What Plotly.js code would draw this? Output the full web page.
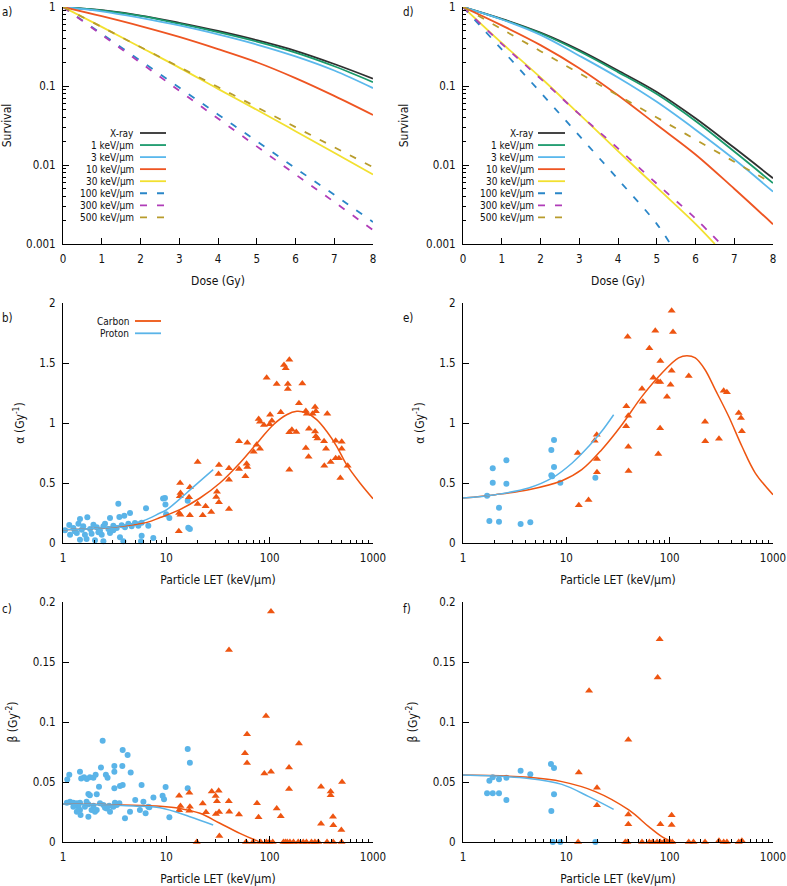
<!DOCTYPE html>
<html><head><meta charset="utf-8">
<script src="https://cdn.plot.ly/plotly-3.0.1.min.js"></script>
<style>html,body{margin:0;padding:0;background:#fff}#chart{width:787px;height:886px}</style>
</head><body><div id="chart"></div>
<script>
// ---------- shared ----------
const seriesNames = ['X-ray','1 keV/μm','3 keV/μm','10 keV/μm','30 keV/μm','100 keV/μm','300 keV/μm','500 keV/μm'];
const seriesColors = ['#303030','#1a9a6c','#5ab8ec','#ee5522','#f2e030','#2a86c8','#b03cb8','#b89c2c'];
const seriesDash = ['solid','solid','solid','solid','solid','7px,10px','7px,10px','7px,10px'];
const dose = [0,1,2,3,4,5,6,7,8];

// ---------- panel a : survival (left) ----------
const survA_xray = [1,0.91,0.78,0.63,0.497,0.38,0.279,0.19,0.124];
const survA_1    = [1,0.905,0.77,0.615,0.48,0.365,0.265,0.178,0.112];
const survA_3    = [1,0.883,0.729,0.584,0.45,0.335,0.237,0.157,0.094];
const survA_10   = [1,0.765,0.573,0.418,0.293,0.2,0.126,0.075,0.043];
const survA_30   = [1,0.56,0.31,0.171,0.092,0.05,0.0268,0.0143,0.0076];
const survA_100  = [1,0.457,0.209,0.0955,0.0437,0.02,0.0091,0.0042,0.0019];
const survA_300  = [1,0.444,0.197,0.0872,0.0387,0.0172,0.0076,0.0034,0.0015];
const survA_500  = [1,0.558,0.311,0.174,0.097,0.054,0.0302,0.0168,0.0094];

// ---------- panel d : survival (right) ----------
const survD_xray = [1,0.708,0.473,0.285,0.157,0.084,0.039,0.0165,0.0068];
const survD_1    = [1,0.70,0.465,0.275,0.15,0.079,0.036,0.0148,0.0059];
const survD_3    = [1,0.695,0.443,0.242,0.128,0.063,0.028,0.0118,0.0046];
const survD_10   = [1,0.585,0.329,0.168,0.0764,0.0323,0.0136,0.005,0.00178];
const doseD_30   = [0,1,2,3,4,5,6,6.5];
const survD_30   = [1,0.35,0.128,0.044,0.015,0.0052,0.0018,0.001];
const doseD_100  = [0,1,2,3,4,5,5.35];
const survD_100  = [1,0.29,0.083,0.0235,0.0066,0.0018,0.001];
const doseD_300  = [0,1,2,3,4,5,6,6.65];
const survD_300  = [1,0.342,0.124,0.044,0.0162,0.0058,0.0021,0.001];
const survD_500  = [1,0.525,0.276,0.145,0.076,0.04,0.021,0.011,0.0058];

// ---------- panel b : alpha (left) ----------
const bProtonLET = [1.46,1.72,2.85,3.51,3.92,4.45,1.15,1.41,1.97,2.55,3.07,3.70,4.29,4.97,5.77,1.045,1.26,1.52,1.83,2.12,2.28,2.75,3.31,3.98,4.62,5.36,6.69,1.17,1.36,1.63,1.89,2.37,2.85,3.56,5.77,7.48,1.46,1.69,2.04,2.46,3.84,5.69,2.2,1.3,1.57,2.46,3.07,3.43,6.36,9.3,9.7,9.8,9.95,10.7,16.1,16.3,16.9];
const bProtonAlpha = [0.20,0.214,0.208,0.217,0.228,0.25,0.15,0.161,0.153,0.161,0.144,0.147,0.161,0.167,0.169,0.106,0.125,0.111,0.117,0.131,0.103,0.117,0.125,0.131,0.139,0.144,0.144,0.069,0.083,0.069,0.078,0.069,0.083,0.047,0.061,0.042,0.028,0.033,0.022,0.014,0.014,0.014,0.089,0.097,0.139,0.139,0.106,0.328,0.289,0.37,0.375,0.32,0.24,0.208,0.353,0.127,0.117];
const bCarbonLET = [155,137.6,143,93.5,117,150,150,207,192,128,101,78.3,80.6,88,105,100,224,229,275,280,260,361,155,164,181,240,275,280,290,336,435,498,224,238,351,498,435,468,389,338,569,483,155,50.5,60.8,74.8,80.6,70,59.8,60.8,50.5,58.2,40.4,40.4,32.3,32,20.1,30.9,30.4,32.3,27.2,24,22.5,20.1,16.9,16.6,16.9,13.6,13.7,13.5,13.3,13.7,13.2,40.4];
const bCarbonAlpha = [1.528,1.483,1.456,1.378,1.325,1.325,1.283,1.33,1.164,1.089,1.069,1.033,1.011,0.983,1.019,0.99,1.1,1.078,1.133,1.097,1.078,1.078,0.922,0.944,0.925,0.953,0.93,0.89,0.87,0.847,0.853,0.844,0.792,0.719,0.786,0.786,0.706,0.706,0.675,0.644,0.644,0.542,0.611,0.847,0.836,0.819,0.786,0.761,0.661,0.633,0.617,0.556,0.622,0.528,0.65,0.575,0.675,0.428,0.383,0.339,0.258,0.306,0.231,0.325,0.464,0.381,0.231,0.5,0.417,0.389,0.25,0.236,0.097,0.283];
const bCarbonFitLET   = [1,2,4,6.5,8.7,13.5,21.2,33,51.5,80.6,108.5,146,183,228,285,356,445,555,748,1000];
const bCarbonFitAlpha = [0.11,0.12,0.143,0.172,0.212,0.278,0.375,0.5,0.667,0.861,0.986,1.069,1.097,1.083,1.028,0.931,0.806,0.653,0.5,0.369];
const bProtonFitLET   = [1,2,4,6,8.7,10,15.7,20,28.4];
const bProtonFitAlpha = [0.11,0.12,0.15,0.185,0.25,0.275,0.417,0.497,0.611];

// ---------- panel e : alpha (right) ----------
const eProtonLET   = [1.71,1.94,1.94,1.8,2.23,2.23,2.63,2.63,3.61,4.48,7.16,7.6,7.6,7.16,7.3,8.75,19.1];
const eProtonAlpha = [0.394,0.622,0.503,0.183,0.294,0.178,0.689,0.494,0.158,0.172,0.775,0.858,0.633,0.564,0.556,0.503,0.544];
const eCarbonLET   = [104.5,72.6,107.7,39.2,63.6,81.3,104.5,153,69.5,77,81,102,54,55,94.2,38.1,39.8,37.9,80.8,39.8,77.6,40,19.7,18.8,19.8,19.8,12.9,13.2,16.4,220,221,300,333,358,466,490,500];
const eCarbonAlpha = [1.936,1.769,1.758,1.719,1.622,1.517,1.436,1.392,1.378,1.344,1.342,1.319,1.286,1.178,1.219,1.139,1.061,0.972,0.956,0.803,0.742,0.6,0.903,0.853,0.7,0.589,0.75,0.314,0.358,1.011,0.847,0.869,1.269,1.256,1.083,1.042,0.931];
const eCarbonFitLET   = [1,2.06,4.32,9.06,14.1,22,34.5,54,84.3,122,147,177,220,276,372,500,674,1000];
const eCarbonFitAlpha = [0.375,0.403,0.444,0.519,0.611,0.778,0.986,1.222,1.417,1.542,1.561,1.542,1.444,1.278,1.056,0.806,0.583,0.403];
const eProtonFitLET   = [1,2.06,4.32,7.3,11.4,16.5,22,28.7];
const eProtonFitAlpha = [0.375,0.403,0.458,0.542,0.667,0.806,0.931,1.069];

// ---------- panel c : beta (left) ----------
const cProtonLET = [2.42,3.78,4.22,16.1,16.9,1.1,1.15,1.46,1.5,1.6,1.7,1.82,1.97,2.07,2.33,2.6,2.7,3.14,3.14,3.75,4.52,3.56,3.78,3.14,2.23,5.76,1.76,1.82,2.12,9.2,9.84,9.5,10.7,7.5,5.0,5.55,6.3,6.85,16.1,1.17,1.26,1.36,1.46,1.41,1.46,1.48,1.36,1.69,1.76,1.97,1.89,2.04,1.76,2.28,2.46,2.65,2.85,3.07,3.31,3.51,3.98,4.45,6.0,6.69,2.55,2.8,3.18,2.12,1.63,1.26,1.09];
const cProtonBeta = [0.0844,0.0767,0.0725,0.0775,0.066,0.052,0.056,0.0586,0.053,0.054,0.0525,0.054,0.0536,0.056,0.062,0.056,0.0536,0.0633,0.0586,0.0633,0.058,0.0467,0.0475,0.0447,0.046,0.0475,0.04,0.039,0.0397,0.0386,0.0458,0.0356,0.0206,0.037,0.035,0.0267,0.024,0.029,0.0447,0.0336,0.0328,0.0322,0.0328,0.0294,0.0267,0.0225,0.0253,0.0336,0.0314,0.0303,0.0267,0.0253,0.0211,0.0322,0.0308,0.028,0.0253,0.0294,0.0308,0.0322,0.0197,0.0253,0.0336,0.0294,0.0286,0.0303,0.0328,0.0267,0.0294,0.0294,0.0328];
const cCarbonLET = [103,40.4,92.2,60.4,192,57.7,60.4,88.8,103,154,154,314,389,389,502,13.3,16.7,27.5,32.1,30,30.9,40.2,22.5,13.7,16.9,16.7,13.3,24.2,30.2,32.4,40.6,50.5,75.4,78,117,128,314,410,413,494,32.6,19.7,59,69,82,93,99,107,136,142,148,157,170,189,211,227,254,274,295,359,412,496];
const cCarbonBeta = [0.192,0.16,0.105,0.0897,0.082,0.0739,0.0658,0.057,0.0586,0.062,0.0442,0.0461,0.042,0.039,0.05,0.0386,0.041,0.042,0.0428,0.0383,0.034,0.034,0.032,0.03,0.0294,0.026,0.0264,0.0247,0.0233,0.025,0.0253,0.023,0.0322,0.0206,0.028,0.0214,0.0153,0.0211,0.0139,0.01,0.005,0,0,0,0,0,0,0,0,0,0,0,0,0,0,0,0,0,0,0,0,0];
const cCarbonFitLET  = [1,2.28,4.8,8.7,13.5,21.2,33,51.5,75,80];
const cCarbonFitBeta = [0.0317,0.0313,0.0306,0.0298,0.028,0.0239,0.0156,0.0072,0.0011,0];
const cProtonFitLET  = [1,2.28,4.8,8.7,16.9,28.4];
const cProtonFitBeta = [0.0317,0.0311,0.03,0.0285,0.0211,0.0142];

// ---------- panel f : beta (right) ----------
const fProtonLET  = [1.71,1.94,2.23,1.8,1.94,2.23,2.63,2.63,3.61,4.48,7.1,7.6,7.6,7.16,7.4,8.75,19.1];
const fProtonBeta = [0.0406,0.0406,0.0406,0.0511,0.0539,0.0522,0.0536,0.035,0.0594,0.0564,0.065,0.0617,0.0397,0.0258,0,0,0];
const fCarbonLET  = [80,76.5,16.6,39.8,13.2,19.8,19.8,39.8,39.8,81.3,104.5,104.5,13,37.2,39,54,63.6,68.5,75.5,81.3,87.7,94.2,101,106,153,170,220,300,333,358,466,500];
const fCarbonBeta = [0.169,0.137,0.126,0.0853,0.058,0.0453,0.0306,0.023,0.0147,0.0147,0.0222,0.0142,0,0,0,0,0,0,0,0,0,0,0,0,0,0,0,0.001,0,0,0,0.001];
const fCarbonFitLET  = [1,4.32,9.06,19.1,40.2,62.7,84,100,113];
const fCarbonFitBeta = [0.0558,0.0539,0.0503,0.042,0.0267,0.0128,0.0044,0.001,0];
const fProtonFitLET  = [1,4.32,9.06,16.5,28.7];
const fProtonFitBeta = [0.0558,0.053,0.048,0.0378,0.0272];

const carbonColor = '#ee5511';
const protonColor = '#5ab4e8';
const ionNames = ['Carbon','Proton'];

// ---------- build ----------
const W = 787, H = 886;
const FONT = 'DejaVu Sans Condensed, DejaVu Sans, sans-serif';
const traces = [];

function addSurv(xa, ya, dosesList, valuesList) {
  valuesList.forEach((v, i) => {
    traces.push({x: dosesList[i], y: v, xaxis: xa, yaxis: ya, mode: 'lines', showlegend: false,
      hoverinfo: 'skip', line: {color: seriesColors[i], width: 1.8, dash: seriesDash[i], shape: 'spline'}});
  });
}
addSurv('x', 'y', [dose,dose,dose,dose,dose,dose,dose,dose],
  [survA_xray, survA_1, survA_3, survA_10, survA_30, survA_100, survA_300, survA_500]);
addSurv('x2', 'y2', [dose,dose,dose,dose,doseD_30,doseD_100,doseD_300,dose],
  [survD_xray, survD_1, survD_3, survD_10, survD_30, survD_100, survD_300, survD_500]);

function addPanel(xa, ya, pL, pV, cL, cV, cfL, cfV, pfL, pfV) {
  traces.push({x: pL, y: pV, xaxis: xa, yaxis: ya, mode: 'markers', showlegend: false, cliponaxis: false,
    marker: {symbol: 'circle', size: 6, color: protonColor}});
  traces.push({x: cL, y: cV, xaxis: xa, yaxis: ya, mode: 'markers', showlegend: false, cliponaxis: false,
    marker: {symbol: 'triangle-up', size: 7, color: carbonColor}});
  traces.push({x: cfL, y: cfV, xaxis: xa, yaxis: ya, mode: 'lines', showlegend: false,
    line: {color: carbonColor, width: 1.5, shape: 'spline'}});
  traces.push({x: pfL, y: pfV, xaxis: xa, yaxis: ya, mode: 'lines', showlegend: false,
    line: {color: protonColor, width: 1.5, shape: 'spline'}});
}
addPanel('x3','y3', bProtonLET, bProtonAlpha, bCarbonLET, bCarbonAlpha, bCarbonFitLET, bCarbonFitAlpha, bProtonFitLET, bProtonFitAlpha);
addPanel('x4','y4', eProtonLET, eProtonAlpha, eCarbonLET, eCarbonAlpha, eCarbonFitLET, eCarbonFitAlpha, eProtonFitLET, eProtonFitAlpha);
addPanel('x5','y5', cProtonLET, cProtonBeta, cCarbonLET, cCarbonBeta, cCarbonFitLET, cCarbonFitBeta, cProtonFitLET, cProtonFitBeta);
addPanel('x6','y6', fProtonLET, fProtonBeta, fCarbonLET, fCarbonBeta, fCarbonFitLET, fCarbonFitBeta, fProtonFitLET, fProtonFitBeta);

const colL = [63/W, 373/W], colR = [463/W, 773/W];
const rowT = [1-244/H, 1-7/H], rowM = [1-543/H, 1-303/H], rowB = [1-842/H, 1-602/H];

const logMinorX = [2,3,4,5,6,7,8,9,20,30,40,50,60,70,80,90,200,300,400,500,600,700,800,900];
const logMinorY = [0.002,0.003,0.004,0.005,0.006,0.007,0.008,0.009,0.02,0.03,0.04,0.05,0.06,0.07,0.08,0.09,0.2,0.3,0.4,0.5,0.6,0.7,0.8,0.9];

const base = {showline: true, linecolor: '#000', linewidth: 1, ticks: 'inside', ticklen: 6, tickwidth: 1,
  tickcolor: '#000', showgrid: false, zeroline: false, mirror: false, tickfont: {size: 11.5, color: '#111'},
  ticklabeloverflow: 'allow', fixedrange: true};
function doseAxis(dom, anchor) {
  return Object.assign({}, base, {domain: dom, anchor: anchor, range: [0, 8], dtick: 1, tick0: 0,
    ticklabelstandoff: 4, title: {text: 'Dose (Gy)', font: {size: 12}, standoff: 11}});
}
function survAxis(dom, anchor) {
  return Object.assign({}, base, {domain: dom, anchor: anchor, type: 'log', range: [-3, 0],
    tickmode: 'array', tickvals: [0.001,0.01,0.1,1], ticktext: ['0.001','0.01','0.1','1'], ticklabelstandoff: 4,
    minor: {tickmode: 'array', tickvals: logMinorY, ticks: 'inside', ticklen: 3, tickcolor: '#000'},
    title: {text: 'Survival', font: {size: 12}, standoff: 14}});
}
function letAxis(dom, anchor) {
  return Object.assign({}, base, {domain: dom, anchor: anchor, type: 'log', range: [0, 3],
    tickmode: 'array', tickvals: [1,10,100,1000], ticktext: ['1','10','100','1000'], ticklabelstandoff: 4,
    minor: {tickmode: 'array', tickvals: logMinorX, ticks: 'inside', ticklen: 3, tickcolor: '#000'},
    title: {text: 'Particle LET (keV/μm)', font: {size: 12}, standoff: 11}});
}
function linAxis(dom, anchor, rng, dt, ttl, so) {
  return Object.assign({}, base, {domain: dom, anchor: anchor, range: rng, dtick: dt, tick0: 0,
    ticklabelstandoff: 4, title: {text: ttl, font: {size: 12}, standoff: so}});
}

const annotations = [];
const shapes = [];
function label(t, px, py) {
  annotations.push({xref: 'paper', yref: 'paper', x: px/W, y: 1-py/H, xanchor: 'left', yanchor: 'middle',
    text: t, showarrow: false, font: {size: 11.5}});
}
label('a)', 0, 12); label('d)', 401, 12);
label('b)', 0, 318); label('e)', 401, 318);
label('c)', 0, 609); label('f)', 401, 609);

function legend(names, colors, dashes, textRight, lx0, lx1, y0, step) {
  names.forEach((n, i) => {
    const py = y0 + i*step;
    annotations.push({xref: 'paper', yref: 'paper', x: textRight/W, y: 1-py/H, xanchor: 'right', yanchor: 'middle',
      text: n, showarrow: false, font: {size: 10}, borderpad: 0});
    shapes.push({type: 'line', xref: 'paper', yref: 'paper', x0: lx0/W, x1: lx1/W, y0: 1-py/H, y1: 1-py/H,
      line: {color: colors[i], width: 1.8, dash: dashes[i]}});
  });
}
legend(seriesNames, seriesColors, seriesDash, 135, 140, 166, 133, 12.05);
legend(seriesNames, seriesColors, seriesDash, 535, 538, 565, 133, 12.05);
legend(ionNames, [carbonColor, protonColor], ['solid','solid'], 130, 135, 161, 321, 12.3);

const layout = {
  width: W, height: H, margin: {l: 0, r: 0, t: 0, b: 0}, paper_bgcolor: '#fff', plot_bgcolor: '#fff',
  font: {family: FONT, size: 11.5, color: '#111'}, showlegend: false,
  xaxis: doseAxis(colL, 'y'), yaxis: survAxis(rowT, 'x'),
  xaxis2: doseAxis(colR, 'y2'), yaxis2: survAxis(rowT, 'x2'),
  xaxis3: letAxis(colL, 'y3'), yaxis3: linAxis(rowM, 'x3', [0, 2], 0.5, 'α (Gy<sup>-1</sup>)', 12),
  xaxis4: letAxis(colR, 'y4'), yaxis4: linAxis(rowM, 'x4', [0, 2], 0.5, 'α (Gy<sup>-1</sup>)', 12),
  xaxis5: letAxis(colL, 'y5'), yaxis5: linAxis(rowB, 'x5', [0, 0.2], 0.05, 'β (Gy<sup>-2</sup>)', 12),
  xaxis6: letAxis(colR, 'y6'), yaxis6: linAxis(rowB, 'x6', [0, 0.2], 0.05, 'β (Gy<sup>-2</sup>)', 12),
  annotations: annotations, shapes: shapes
};
Plotly.newPlot('chart', traces, layout, {displayModeBar: false, staticPlot: true});
</script></body></html>
